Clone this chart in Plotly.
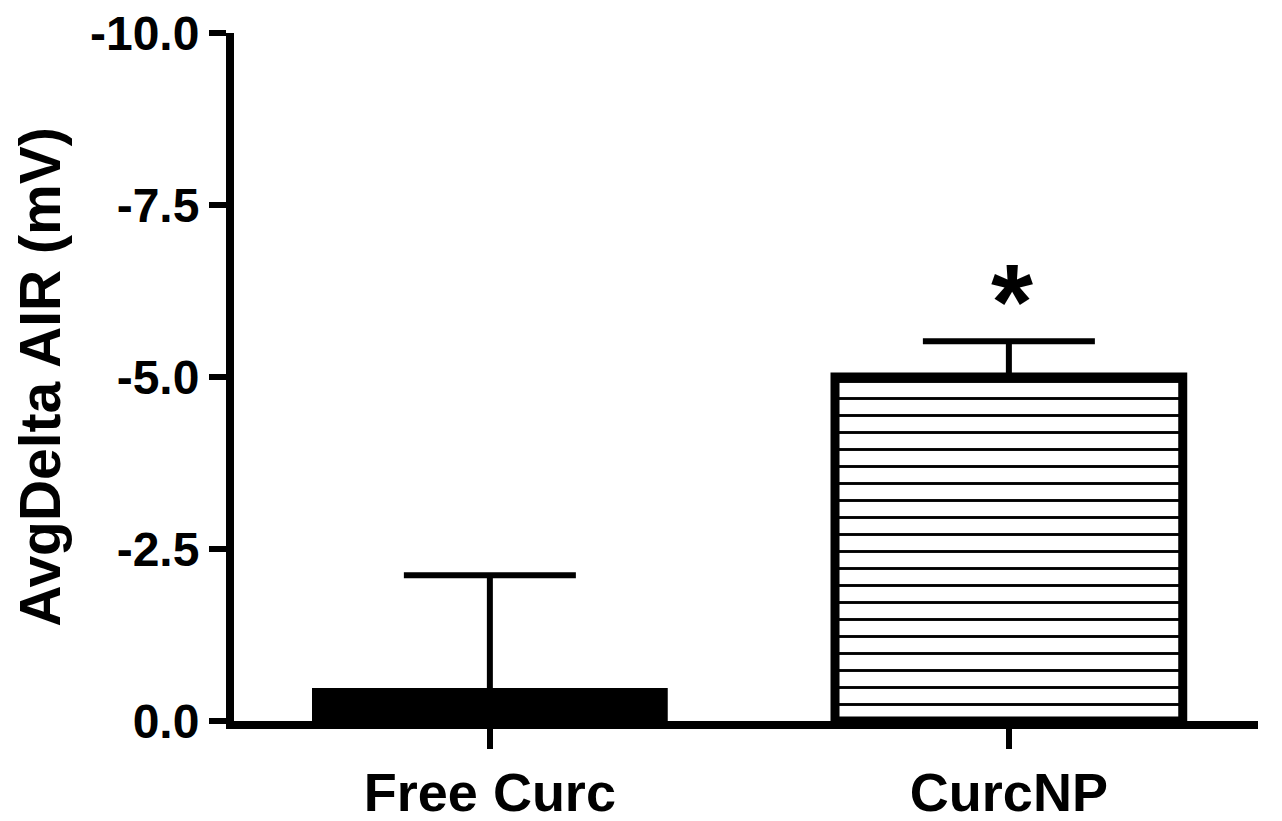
import plotly.graph_objects as go

categories = ["Free Curc", "CurcNP"]
values = [-0.42, -5.0]
err_up = [1.70, 0.52]          # SEM drawn toward more negative values
ytick_vals = [0, -2.5, -5, -7.5, -10]
ytick_text = ["0.0", "-2.5", "-5.0", "-7.5", "-10.0"]
y_title = "AvgDelta AIR (mV)"
sig_label = "*"

FONT = "Liberation Sans"

fig = go.Figure()

fig.add_trace(go.Bar(
    x=[0], y=[values[0]],
    width=0.67,
    marker=dict(color="black", line=dict(color="black", width=8)),
    error_y=dict(type="data", symmetric=False, array=[0], arrayminus=[err_up[0]],
                 color="black", thickness=6, width=86),
    showlegend=False,
))
fig.add_trace(go.Bar(
    x=[1], y=[values[1]],
    width=0.67,
    marker=dict(color="white", line=dict(color="black", width=9),
                pattern=dict(shape="-", size=17, solidity=0.17,
                             fgcolor="black", bgcolor="white", fgopacity=1,
                             fillmode="replace")),
    error_y=dict(type="data", symmetric=False, array=[0], arrayminus=[err_up[1]],
                 color="black", thickness=6, width=86),
    showlegend=False,
))

fig.add_annotation(
    x=1, y=values[1] - err_up[1], text=sig_label, showarrow=False,
    yanchor="bottom", yshift=-23, xshift=3,
    font=dict(family=FONT, size=108, color="black", weight="bold"),
)

fig.update_layout(
    width=1282, height=821,
    margin=dict(l=226, r=32, t=25, b=108),
    paper_bgcolor="white", plot_bgcolor="white",
    font=dict(family=FONT, color="black", weight="bold"),
)

fig.update_xaxes(
    range=[-0.493, 1.48], automargin=False,
    tickmode="array", tickvals=[0, 1], ticktext=categories,
    showline=True, linecolor="black", linewidth=8,
    ticks="outside", ticklen=20, tickwidth=6, tickcolor="black",
    tickfont=dict(family=FONT, size=54, color="black", weight="bold"),
    ticklabelstandoff=-3, ticklabeloverflow="allow",
    showgrid=False, zeroline=False,
)
fig.update_yaxes(
    range=[0, -10], automargin=False,
    tickmode="array", tickvals=ytick_vals, ticktext=ytick_text,
    showline=True, linecolor="black", linewidth=8,
    ticks="outside", ticklen=17, tickwidth=6, tickcolor="black",
    tickfont=dict(family=FONT, size=48, color="black", weight="bold"),
    ticklabeloverflow="allow",
    title=dict(text=y_title, font=dict(family=FONT, size=57, color="black", weight="bold"),
               standoff=24),
    showgrid=False, zeroline=False,
)

fig.write_html("out.html")
